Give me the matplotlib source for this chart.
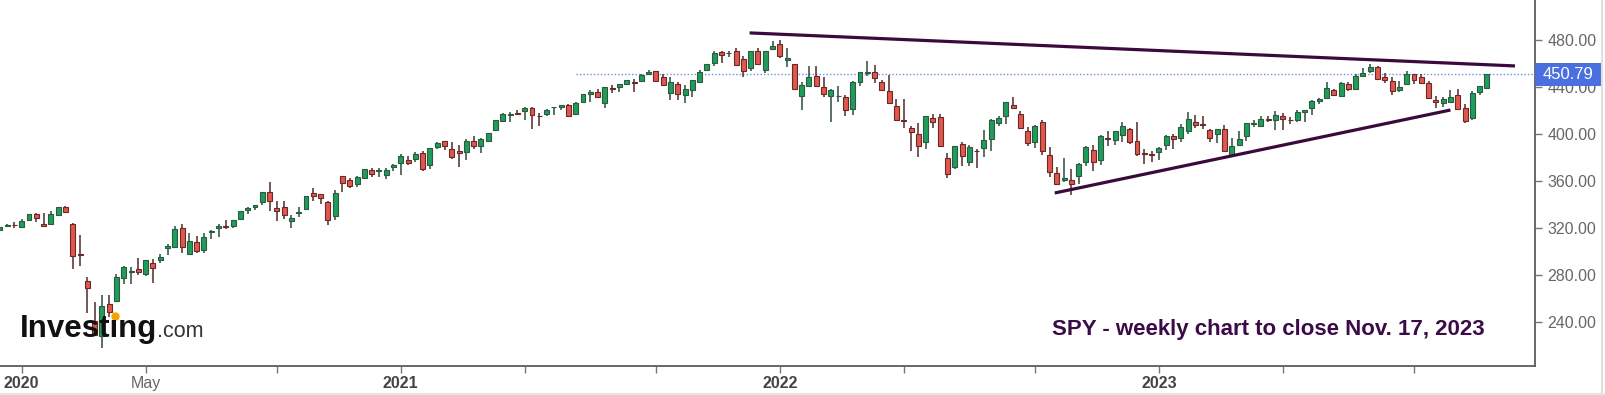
import matplotlib
matplotlib.use('Agg')
import matplotlib.pyplot as plt
import matplotlib.transforms as mtransforms
from matplotlib.patches import Rectangle
from matplotlib.lines import Line2D
import numpy as np
import pandas as pd

plt.rcParams['font.family'] = ['Liberation Sans', 'DejaVu Sans']

# Weekly SPY candles (week start dates), Dec 2019 - Nov 17, 2023
weeks = pd.date_range('2019-12-16', '2023-11-13', freq='W-MON')

opens = [
    317.9, 321.6, 322.9,
    # 2020
    320.5, 326.4, 332.0, 323.0, 323.4, 331.2, 337.8, 323.1, 298.2, 275.3, 241.2, 228.2, 255.6,
    257.8, 277.6, 282.6, 285.1, 280.7, 290.3, 293.1, 302.9, 303.6, 320.2, 298.0, 307.9, 301.4,
    316.4, 320.1, 321.4, 321.6, 327.9, 335.1, 337.9, 342.1, 350.4, 336.7, 337.5, 325.7, 333.2,
    336.1, 349.6, 348.7, 342.1, 330.2, 364.0, 361.0, 357.3, 362.8, 369.0, 368.6, 365.0, 371.7,
    # 2021
    375.3, 377.9, 378.3, 383.7, 373.7, 388.8, 394.0, 387.1, 385.6, 384.7, 394.3, 390.0, 394.4,
    403.5, 410.9, 416.3, 417.4, 419.4, 422.5, 415.4, 417.3, 422.6, 422.6, 424.4, 416.8, 427.2,
    433.8, 435.4, 426.2, 439.3, 440.3, 442.5, 444.5, 445.2, 451.0, 453.3, 448.6, 434.9, 442.8,
    433.0, 437.2, 444.0, 454.3, 460.3, 469.7, 468.6, 470.9, 464.1, 456.1, 470.2, 454.5, 472.1,
    # 2022
    476.3, 462.7, 459.7, 432.0, 441.2, 449.5, 439.9, 431.9, 432.0, 431.6, 420.9, 444.3, 452.1,
    453.1, 444.1, 436.8, 423.7, 412.1, 405.1, 399.9, 392.8, 413.6, 414.8, 379.9, 371.9, 391.1,
    375.9, 385.8, 388.4, 395.8, 409.2, 415.3, 424.8, 417.1, 402.2, 393.1, 410.1, 382.3, 366.4,
    361.1, 361.2, 364.0, 375.9, 386.4, 377.7, 396.7, 394.6, 399.1, 404.0, 394.3, 383.5, 382.8,
    # 2023
    384.4, 390.4, 398.5, 396.7, 402.8, 409.8, 408.7, 403.1, 399.9, 404.4, 381.8, 390.8, 398.1,
    408.9, 406.6, 412.4, 412.0, 415.5, 412.0, 412.2, 418.6, 422.0, 428.3, 430.9, 437.5, 432.6,
    442.9, 438.2, 449.1, 453.4, 457.4, 448.7, 444.7, 437.6, 442.2, 450.7, 448.2, 443.1, 429.2,
    426.6, 427.6, 432.8, 421.9, 413.6, 435.5, 439.2,
]
highs = [
    320.9, 323.0, 324.9,
    327.5, 332.0, 332.9, 332.9, 334.2, 338.1, 339.1, 324.0, 313.8, 278.1, 256.9, 262.8, 263.3,
    281.2, 287.3, 286.8, 294.9, 292.9, 294.0, 297.9, 306.8, 321.3, 323.4, 315.6, 313.0, 315.7,
    317.9, 323.0, 327.2, 326.6, 334.9, 338.3, 339.6, 350.7, 358.8, 342.6, 343.1, 330.9, 338.3,
    347.3, 354.0, 349.3, 342.9, 352.2, 364.4, 362.3, 364.2, 369.9, 371.1, 371.2, 371.0, 374.7,
    383.0, 381.1, 385.0, 385.9, 388.5, 392.9, 394.2, 392.9, 390.9, 395.6, 398.1, 396.4, 400.7,
    411.7, 417.9, 418.3, 420.7, 422.8, 422.7, 418.2, 421.3, 422.9, 424.6, 425.5, 427.1, 434.1,
    437.8, 437.9, 440.3, 441.8, 442.9, 446.0, 447.1, 450.7, 454.1, 453.7, 451.0, 448.4, 444.1,
    441.7, 446.3, 454.7, 459.6, 470.7, 470.2, 470.9, 473.5, 466.6, 470.9, 472.9, 470.9, 479.0,
    479.98, 473.2, 459.96, 444.0, 458.1, 457.9, 448.1, 438.2, 441.1, 433.0, 444.9, 452.98, 462.1,
    458.8, 445.8, 450.0, 429.6, 429.7, 406.4, 409.0, 415.4, 417.4, 416.6, 383.9, 390.1, 393.2,
    390.6, 387.6, 403.1, 413.0, 415.7, 427.2, 431.7, 419.96, 405.8, 407.5, 411.7, 389.3, 372.3,
    379.5, 370.3, 375.4, 389.5, 390.4, 399.4, 402.3, 402.9, 410.0, 404.9, 410.5, 387.4, 385.3,
    389.3, 399.1, 400.2, 408.2, 418.3, 416.5, 415.0, 404.2, 404.5, 407.5, 396.5, 402.5, 409.7,
    411.9, 415.1, 415.7, 419.2, 417.6, 414.5, 420.7, 420.8, 428.7, 431.0, 443.9, 438.4, 444.3,
    444.1, 451.4, 456.4, 459.4, 458.2, 451.7, 448.1, 445.2, 453.7, 451.1, 451.1, 445.3, 432.3,
    431.1, 437.3, 438.1, 425.8, 436.3, 440.9, 451.4,
]
lows = [
    317.2, 320.9, 320.3,
    320.4, 325.8, 325.1, 320.9, 322.6, 331.2, 332.6, 285.5, 288.0, 247.7, 228.0, 218.3, 243.9,
    257.0, 272.4, 272.1, 279.6, 279.1, 272.9, 290.2, 297.4, 303.2, 299.0, 296.7, 298.9, 298.9,
    310.7, 312.4, 319.2, 319.6, 327.7, 332.0, 335.0, 339.5, 334.9, 326.0, 328.0, 319.8, 329.4,
    335.6, 343.1, 340.6, 322.6, 327.2, 350.5, 354.2, 354.9, 362.0, 363.3, 363.3, 362.0, 368.7,
    364.8, 373.4, 376.4, 368.3, 370.4, 387.5, 386.0, 378.8, 372.0, 377.5, 387.6, 383.9, 392.8,
    403.4, 410.2, 410.6, 416.3, 411.7, 404.0, 406.5, 414.9, 416.3, 420.1, 414.7, 415.9, 426.6,
    427.5, 430.9, 422.0, 435.1, 436.1, 441.3, 436.1, 444.0, 450.6, 445.3, 441.0, 428.9, 428.8,
    426.4, 431.5, 443.3, 453.2, 458.2, 460.7, 465.5, 458.1, 448.9, 453.6, 458.3, 451.6, 472.0,
    464.65, 456.6, 437.95, 420.76, 439.8, 439.8, 431.8, 410.6, 427.1, 415.1, 415.8, 440.7, 449.1,
    443.5, 436.7, 425.4, 411.2, 405.0, 385.15, 380.5, 386.96, 405.0, 389.75, 362.17, 370.2, 372.6,
    372.6, 371.0, 380.7, 385.6, 406.8, 408.6, 421.2, 405.25, 390.0, 388.4, 382.1, 363.3, 357.0,
    359.2, 348.1, 357.3, 373.1, 368.8, 373.6, 390.0, 390.5, 393.3, 391.6, 381.0, 374.8, 376.4,
    377.8, 386.3, 387.3, 393.6, 400.3, 405.0, 404.1, 393.6, 392.3, 384.3, 380.65, 389.4, 393.7,
    405.8, 406.0, 410.2, 403.8, 403.7, 408.9, 410.0, 409.9, 416.2, 425.8, 430.2, 432.5, 431.2,
    436.8, 437.6, 448.7, 451.6, 446.3, 443.3, 433.0, 435.3, 441.5, 442.8, 442.9, 429.9, 422.3,
    423.0, 427.0, 421.1, 409.2, 412.0, 433.4, 438.4,
]
closes = [
    320.73, 322.86, 322.41,
    325.71, 331.95, 328.77, 321.73, 332.20, 337.60, 333.48, 296.26, 297.46, 269.32, 228.80, 253.42, 248.19,
    278.20, 286.64, 282.97, 282.79, 292.44, 286.28, 295.44, 304.32, 319.34, 304.21, 308.64, 300.05, 312.23,
    317.59, 321.72, 320.88, 326.52, 334.57, 336.84, 339.48, 350.58, 342.57, 334.06, 330.65, 328.73, 333.84,
    346.85, 347.29, 345.78, 326.54, 350.16, 358.10, 355.33, 363.67, 369.85, 366.30, 369.18, 369.00, 373.88,
    381.26, 375.70, 382.88, 370.07, 387.71, 392.64, 390.03, 380.36, 383.63, 394.06, 389.48, 395.98, 400.61,
    411.49, 417.26, 416.74, 417.30, 422.12, 416.58, 414.94, 420.04, 422.60, 424.31, 414.92, 426.61, 433.72,
    435.52, 431.34, 439.94, 438.51, 442.49, 445.92, 443.36, 450.25, 453.08, 445.44, 441.40, 443.91, 434.24,
    437.86, 445.87, 453.12, 459.25, 468.53, 467.27, 468.89, 458.97, 453.42, 470.74, 459.87, 470.60, 474.96,
    466.09, 464.72, 437.98, 441.95, 448.70, 440.46, 434.23, 437.75, 432.17, 420.07, 444.52, 452.69, 452.92,
    447.57, 437.79, 426.04, 412.00, 411.34, 401.72, 389.63, 415.26, 410.54, 389.80, 365.86, 390.08, 381.24,
    388.67, 385.13, 395.09, 411.99, 413.47, 427.10, 422.14, 405.31, 392.24, 406.60, 385.56, 367.95, 357.18,
    362.79, 357.63, 374.29, 389.02, 376.35, 398.51, 396.03, 402.33, 406.91, 393.28, 383.27, 382.91, 382.43,
    388.08, 398.50, 395.88, 405.68, 412.35, 408.04, 407.26, 396.38, 404.19, 385.91, 389.99, 395.75, 409.39,
    409.19, 412.46, 412.20, 415.93, 412.63, 411.59, 418.62, 420.02, 427.92, 429.90, 439.46, 433.21, 443.28,
    438.55, 449.28, 452.18, 456.92, 446.81, 445.65, 436.50, 439.97, 451.19, 445.52, 443.37, 430.42, 427.48,
    429.54, 431.50, 421.19, 410.68, 434.69, 440.61, 450.79,
]

last_close = 450.79
price_ticks = [240, 280, 320, 360, 400, 440, 480]

# hand-drawn trendlines (date, price)
upper_dates = ['2021-12-05', '2023-12-10']
upper_prices = [486.0, 457.9]
lower_dates = ['2022-09-24', '2023-10-09']
lower_prices = [349.8, 420.4]
hline_start = '2021-06-21'

note = 'SPY - weekly chart to close Nov. 17, 2023'

W, H = 1605, 395
fig = plt.figure(figsize=(W / 100, H / 100), dpi=100)
ax = fig.add_axes([0, 1 - 366 / H, 1535 / W, 366 / H])

o = np.array(opens)
h = np.array(highs)
l = np.array(lows)
c = np.array(closes)
x = ((weeks - weeks[0]).days / 7).to_numpy()


def to_x(d):
    return (pd.Timestamp(d) - weeks[0]).days / 7


up = c >= o
body_col = np.where(up, '#1f9d5c', '#e2574c')
edge_col = np.where(up, '#2c5a3e', '#6a2828')
wick_col = np.where(up, '#2f4a3a', '#4f2a2a')

ax.vlines(x, l, h, colors=wick_col, lw=1.1, zorder=2)
body_h = np.maximum(np.abs(c - o), 0.5)
ax.bar(x, body_h, bottom=np.minimum(o, c), width=0.68, color=body_col,
       edgecolor=edge_col, linewidth=0.8, zorder=3)

# trendlines
ax.plot([to_x(d) for d in upper_dates], upper_prices, color='#3a0a3c', lw=2.3,
        solid_capstyle='butt', zorder=4)
ax.plot([to_x(d) for d in lower_dates], lower_prices, color='#3a0a3c', lw=2.3,
        solid_capstyle='butt', zorder=4)

ax.set_xlim(0.02, 210.6)
ax.set_ylim(202.6, 514.0)

# last price dotted line
ax.plot([to_x(hline_start), 210.6], [last_close, last_close], color='#6f8fd6',
        lw=1.0, ls=(0, (1, 1.5)), zorder=1)

# spines
for s in ['left', 'top']:
    ax.spines[s].set_visible(False)
for s in ['right', 'bottom']:
    ax.spines[s].set_color('#5c5c5c')
    ax.spines[s].set_linewidth(1.3)

# y axis on the right
ax.yaxis.tick_right()
ax.set_yticks(price_ticks)
ax.set_yticklabels([f'{v:.2f}' for v in price_ticks])
ax.tick_params(axis='y', length=5, width=1, color='#777', pad=4, labelsize=11.5,
               labelcolor='#666')

# x ticks at first bar of Jan / May / Sep
tick_pos, tick_lab = [], []
prev_month = None
for xi, d in zip(x, weeks):
    if d.month != prev_month and d.month in (1, 5, 9) and prev_month is not None:
        tick_pos.append(xi)
        if d.month == 1:
            tick_lab.append(str(d.year))
        elif d.month == 5 and d.year == 2020:
            tick_lab.append('May')
        else:
            tick_lab.append('')
    prev_month = d.month
ax.set_xticks(tick_pos)
ax.set_xticklabels(tick_lab)
ax.tick_params(axis='x', length=5, width=1, color='#777', pad=2.5, labelsize=11.5)
for t in ax.get_xticklabels():
    if t.get_text().isdigit():
        t.set_fontweight('bold')
        t.set_color('#444444')
    else:
        t.set_color('#666666')

# last price tag
trans = mtransforms.blended_transform_factory(ax.transAxes, ax.transData)
box_h = 23 / 1.175
ax.add_patch(Rectangle((1.0, last_close - box_h / 2), 67 / 1535, box_h, transform=trans,
                       facecolor='#4a6fe0', edgecolor='none', clip_on=False, zorder=6))
ax.text(1.0 + 33.5 / 1535, last_close, f'{last_close:.2f}', transform=trans, ha='center',
        va='center', color='white', fontsize=12, zorder=7, clip_on=False)

# note
fig.text(1268 / W, 1 - 329 / H, note, ha='center', va='center', fontsize=16,
         fontweight='bold', color='#3b0b47')

# Investing.com logo
fig.canvas.draw()
r = fig.canvas.get_renderer()
base_y = 1 - 337 / H
logo = fig.text(20 / W, base_y, 'Invest\u0131ng', fontsize=22.5, fontweight='bold',
                color='#111111', va='baseline')
bb = logo.get_window_extent(r)
fig.text(bb.x1 / W, base_y, '.com', fontsize=15.5, color='#333333', va='baseline')
tmp = fig.text(20 / W, base_y, 'Invest', fontsize=22.5, fontweight='bold', va='baseline')
bb2 = tmp.get_window_extent(r)
tmp.remove()
fig.add_artist(Line2D([(bb2.x1 + 4) / W], [1 - 316 / H], marker='o', markersize=5,
                      color='#f5a300', transform=fig.transFigure, lw=0))

# faint outer frame
fig.add_artist(Line2D([1602 / W, 1602 / W], [0, 1], color='#dedede', lw=1.5,
                      transform=fig.transFigure))
fig.add_artist(Line2D([0, 1], [1 - 393.5 / H, 1 - 393.5 / H], color='#e6e6e6', lw=1.5,
                      transform=fig.transFigure))

fig.savefig('out.png', dpi=100)
